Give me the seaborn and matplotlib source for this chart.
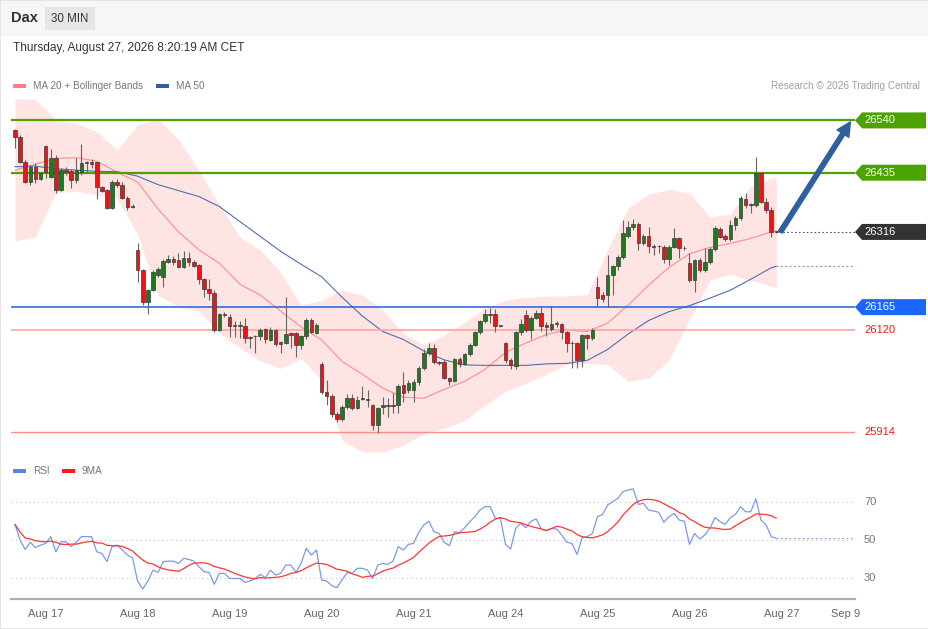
import numpy as np
import pandas as pd
import matplotlib
matplotlib.use("Agg")
import matplotlib.pyplot as plt
from matplotlib.patches import Rectangle, Polygon
import seaborn as sns

# ========================
# DATA (30 min candles, Aug 14 close -> Aug 26 close)
# ========================
opens = [26521, 26506, 26457, 26417, 26447, 26422, 26489, 26427, 26464, 26400,
         26440, 26439, 26420, 26437, 26455, 26457, 26456, 26406, 26400, 26365,
         26417, 26410, 26385, 26367, 26280, 26240, 26175, 26199, 26229, 26226,
         26256, 26262, 26260, 26246, 26263, 26255, 26249, 26221, 26201, 26194,
         26120, 26152, 26145, 26128, 26127, 26128, 26104, 26106, 26107, 26121,
         26099, 26119, 26095, 26092, 26113, 26113, 26089, 26106, 26139, 26113,
         26050, 25995, 25986, 25951, 25941, 25964, 25983, 25963, 25981, 25981,
         25968, 25928, 25965, 25966, 25966, 25969, 26008, 25998, 25998, 26014,
         26042, 26072, 26083, 26055, 26055, 26023, 26016, 26060, 26050, 26070,
         26089, 26115, 26137, 26152, 26152, 26128, 26092, 26058, 26046, 26115,
         26150, 26120, 26144, 26154, 26130, 26122, 26133, 26131, 26115, 26093,
         26092, 26058, 26109, 26102, 26206, 26190, 26189, 26229, 26247, 26266,
         26308, 26325, 26332, 26294, 26308, 26288, 26287, 26286, 26261, 26286,
         26303, 26283, 26254, 26219, 26260, 26240, 26256, 26281, 26321, 26308,
         26301, 26330, 26343, 26383, 26372, 26370, 26434, 26377, 26361, 26316]
highs = [26523, 26511, 26460, 26450, 26454, 26437, 26491, 26482, 26470, 26444,
         26447, 26442, 26464, 26493, 26459, 26462, 26457, 26408, 26402, 26420,
         26422, 26417, 26388, 26372, 26293, 26242, 26202, 26240, 26245, 26262,
         26270, 26268, 26274, 26278, 26275, 26259, 26252, 26224, 26221, 26200,
         26154, 26155, 26152, 26138, 26138, 26143, 26107, 26109, 26123, 26124,
         26125, 26121, 26097, 26186, 26115, 26116, 26110, 26143, 26143, 26133,
         26055, 26018, 25990, 25955, 25968, 25990, 25990, 25986, 26006, 25998,
         25970, 25965, 25985, 25982, 25992, 26010, 26035, 26018, 26020, 26046,
         26080, 26092, 26090, 26057, 26058, 26025, 26062, 26065, 26073, 26092,
         26118, 26140, 26162, 26163, 26162, 26130, 26095, 26062, 26118, 26142,
         26160, 26148, 26160, 26168, 26135, 26168, 26138, 26133, 26117, 26096,
         26095, 26112, 26112, 26124, 26226, 26195, 26269, 26250, 26270, 26340,
         26337, 26342, 26335, 26312, 26325, 26292, 26290, 26289, 26290, 26324,
         26306, 26287, 26273, 26262, 26264, 26283, 26285, 26327, 26325, 26312,
         26340, 26348, 26388, 26394, 26374, 26467, 26436, 26385, 26366, 26318]
lows = [26485, 26454, 26414, 26410, 26414, 26420, 26424, 26424, 26395, 26398,
        26430, 26404, 26414, 26430, 26434, 26444, 26383, 26397, 26363, 26363,
        26406, 26383, 26360, 26365, 26216, 26170, 26152, 26197, 26225, 26206,
        26254, 26250, 26243, 26243, 26248, 26246, 26211, 26186, 26179, 26115,
        26117, 26146, 26104, 26105, 26103, 26092, 26083, 26073, 26099, 26093,
        26097, 26087, 26073, 26090, 26082, 26064, 26080, 26101, 26114, 26111,
        25990, 25968, 25944, 25935, 25937, 25961, 25958, 25960, 25978, 25965,
        25918, 25912, 25950, 25945, 25952, 25953, 25975, 25992, 25975, 26008,
        26038, 26068, 26050, 26048, 26020, 26008, 26014, 26045, 26048, 26067,
        26086, 26112, 26134, 26133, 26115, 26125, 26052, 26040, 26040, 26110,
        26115, 26100, 26141, 26117, 26108, 26118, 26125, 26100, 26075, 26042,
        26042, 26045, 26081, 26098, 26166, 26175, 26166, 26189, 26240, 26262,
        26303, 26320, 26280, 26290, 26273, 26270, 26274, 26253, 26250, 26283,
        26264, 26280, 26215, 26196, 26236, 26236, 26252, 26278, 26303, 26298,
        26297, 26320, 26340, 26365, 26354, 26366, 26374, 26355, 26306, 26314]
closes = [26506, 26457, 26417, 26447, 26422, 26435, 26437, 26464, 26400, 26440,
          26437, 26420, 26440, 26455, 26457, 26452, 26406, 26399, 26365, 26417,
          26410, 26385, 26367, 26369, 26240, 26175, 26199, 26236, 26242, 26258,
          26262, 26256, 26246, 26263, 26255, 26248, 26221, 26201, 26194, 26119,
          26152, 26150, 26128, 26127, 26128, 26102, 26103, 26107, 26119, 26100,
          26119, 26091, 26091, 26112, 26110, 26089, 26106, 26139, 26116, 26129,
          25994, 25986, 25950, 25941, 25964, 25983, 25962, 25979, 25982, 25978,
          25928, 25963, 25968, 25967, 25969, 26006, 25993, 26013, 26015, 26042,
          26072, 26083, 26055, 26052, 26022, 26016, 26060, 26050, 26070, 26089,
          26115, 26137, 26152, 26150, 26127, 26127, 26058, 26048, 26115, 26132,
          26119, 26144, 26153, 26127, 26125, 26132, 26131, 26115, 26092, 26092,
          26058, 26109, 26102, 26119, 26183, 26182, 26229, 26247, 26266, 26314,
          26325, 26332, 26294, 26308, 26288, 26286, 26287, 26261, 26286, 26303,
          26283, 26283, 26219, 26260, 26240, 26256, 26281, 26323, 26306, 26301,
          26330, 26343, 26385, 26370, 26370, 26434, 26377, 26360, 26316, 26316]

# indicator lines read at every 4th candle
band_idx = [0, 4, 8, 12, 16, 20, 24, 28, 32, 36, 40, 44, 48, 52, 56, 60, 64, 68, 72,
            76, 80, 84, 88, 92, 96, 100, 104, 108, 112, 116, 120, 124, 128, 132, 136,
            140, 144, 148, 149]
ma20 = [26440, 26452, 26464, 26465, 26458, 26436, 26416, 26362, 26316, 26280,
        26253, 26211, 26189, 26157, 26125, 26099, 26056, 26030, 26002, 25984,
        25982, 26000, 26016, 26040, 26074, 26093, 26110, 26119, 26116, 26133,
        26169, 26209, 26245, 26272, 26285, 26293, 26303, 26316, 26318]
bb_upper = [26583, 26583, 26541, 26535, 26517, 26481, 26531, 26543, 26501, 26440,
            26370, 26306, 26280, 26235, 26169, 26179, 26199, 26189, 26159, 26113,
            26089, 26109, 26135, 26163, 26179, 26185, 26187, 26187, 26191, 26280,
            26364, 26392, 26401, 26394, 26346, 26352, 26408, 26424, 26424]
bb_lower = [26298, 26306, 26394, 26398, 26390, 26384, 26310, 26189, 26165, 26157,
            26113, 26083, 26058, 26042, 26062, 26018, 25898, 25874, 25874, 25888,
            25910, 25922, 25938, 25968, 25996, 26012, 26030, 26050, 26052, 26050,
            26016, 26022, 26058, 26139, 26219, 26231, 26219, 26207, 26205]
ma50 = [26447, 26448, 26443, 26440, 26438, 26437, 26428, 26411, 26399, 26387,
        26367, 26337, 26307, 26277, 26251, 26226, 26185, 26147, 26116, 26100,
        26077, 26059, 26049, 26048, 26048, 26048, 26051, 26052, 26058, 26080,
        26111, 26138, 26156, 26168, 26183, 26199, 26221, 26244, 26247]

rsi = [58.3, 50, 45, 48.8, 46, 47.3, 48.2, 51.8, 43.8, 49,
       49, 46.5, 48.8, 51.8, 51.8, 51.8, 43.8, 42.9, 38.5, 46.5,
       47.3, 44.7, 42, 40.6, 28.2, 24, 28.2, 34, 32.8, 38.5,
       38.8, 38.8, 37.6, 40.3, 39.7, 38.8, 35.8, 33.2, 32.8, 26.5,
       32.3, 32.3, 29.6, 29.6, 29.6, 27.5, 28.2, 29.6, 31.8, 30,
       34, 31.4, 32.3, 36.7, 36.7, 32.8, 37.6, 45.6, 42, 44.7,
       28.8, 28.2, 25.8, 24.7, 28.8, 32.8, 32.3, 35, 35, 34,
       29.6, 36.7, 37.6, 37.1, 38.8, 46.5, 44.7, 47.7, 48.2, 54,
       58, 60, 54.4, 53.5, 48.8, 47, 54.4, 54, 56.5, 59.7,
       62.4, 65.9, 67.7, 67.7, 61.5, 61.5, 47.7, 45.2, 56.2, 58.8,
       56.5, 60, 61.2, 55.8, 54.8, 56.2, 55.8, 52.7, 48.8, 48.2,
       42.4, 51.2, 51.8, 53.5, 62.4, 63.6, 68.6, 70.4, 72.1, 75.7,
       76.5, 77.1, 68.9, 69.5, 65.9, 65.4, 64.7, 59.4, 62.4, 64.2,
       60.6, 60, 47.7, 53.5, 50.5, 52.7, 56.2, 61.9, 59.7, 58.3,
       61.9, 63.6, 67.7, 65, 65, 71.8, 60.6, 58, 51.8, 50.9]

day_labels = ["Aug 17", "Aug 18", "Aug 19", "Aug 20", "Aug 21",
              "Aug 24", "Aug 25", "Aug 26", "Aug 27", "Sep 9"]
day_pos = [6, 24, 42, 60, 78, 96, 114, 132, 150, 162.6]

resistances = [26540, 26435]
pivot = 26316
support_main = 26165
supports = [26120, 25914]
target = 26540
rsi_levels = [30, 50, 70]

# ========================
# STYLE / LAYOUT
# ========================
sns.set_theme(style="white")
plt.rcParams['font.family'] = ['Liberation Sans', 'DejaVu Sans']

W, H = 929, 629
GREEN_LVL = '#4ca300'
BLUE_LVL = '#1f62e0'
RED_TXT = '#ee1c1c'
CANDLE_UP = '#1d7a1d'
CANDLE_DN = '#ee1414'


def fx(px):
    return px / W


def fy(py):
    return 1 - py / H


fig = plt.figure(figsize=(W / 100, H / 100), dpi=100)
fig.patch.set_facecolor('white')

ax = fig.add_axes([fx(11), fy(456), fx(855) - fx(11), fy(96) - fy(456)])
ax_rsi = fig.add_axes([fx(11), fy(599), fx(855) - fx(11), fy(485) - fy(599)])

xmin, xmax = -0.78, 164.4

# ------------------------
# price panel
# ------------------------
o = np.array(opens, float)
h = np.array(highs, float)
l = np.array(lows, float)
c = np.array(closes, float)
idx = np.arange(len(c))
up = c >= o

ax.set_xlim(xmin, xmax)
ax.set_ylim(25866, 26589)

ax.fill_between(band_idx, bb_lower, bb_upper, color='#ffe4e4', lw=0, zorder=1)
sns.lineplot(x=band_idx, y=ma20, ax=ax, color='#ff8c8c', lw=0.8, zorder=2)
sns.lineplot(x=band_idx, y=ma50, ax=ax, color='#4f6fae', lw=0.8, zorder=2)

for lvl in resistances:
    ax.axhline(lvl, color=GREEN_LVL, lw=1.6, zorder=2)
ax.axhline(support_main, color=BLUE_LVL, lw=1.1, zorder=2)
ax.axhline(supports[0], color='#ffa3a3', lw=1.2, zorder=2)
ax.axhline(supports[1], color='#ff8a8a', lw=1.0, zorder=2)

last = len(c) - 1
ax.hlines(pivot, last + 0.5, xmax, colors='#555555', linestyles=(0, (1.5, 2)), lw=0.8, zorder=2)
ax.hlines(ma50[-1], band_idx[-1], xmax, colors='#8099cc', linestyles=(0, (1.5, 2)), lw=0.9, zorder=2)

# candles
ax.vlines(idx, l, h, color='#666666', lw=0.8, zorder=3)
body = np.maximum(np.abs(c - o), 1.5)
ax.bar(idx, body, bottom=np.minimum(o, c), width=0.7,
       color=np.where(up, CANDLE_UP, CANDLE_DN), edgecolor='#3a3a3a',
       linewidth=0.5, zorder=4)

# projection arrow
ax.annotate('', xy=(163.5, target - 3), xytext=(149.8, pivot),
            arrowprops=dict(width=3.2, headwidth=10, headlength=10,
                            color='#2e5f9f', shrink=0), zorder=5)

ax.set_xlim(xmin, xmax)
ax.set_ylim(25866, 26589)
ax.set_axis_off()


# right-hand tags
def level_tag(value, color, boxed=True, text_color='white'):
    ypx = ax.transData.transform((0, value))[1]
    if boxed:
        pts = [(855, ypx), (862, ypx + 8), (926, ypx + 8), (926, ypx - 8), (862, ypx - 8)]
        fig.add_artist(Polygon([(px / W, py / H) for px, py in pts],
                               closed=True, transform=fig.transFigure,
                               facecolor=color, edgecolor='none'))
    fig.text(fx(864), ypx / H, f"{value}", color=text_color, fontsize=8,
             va='center', ha='left')


for lvl in resistances:
    level_tag(lvl, GREEN_LVL)
level_tag(pivot, '#333333')
level_tag(support_main, '#1a66ff')
for lvl in supports:
    level_tag(lvl, None, boxed=False, text_color=RED_TXT)

# ------------------------
# RSI panel
# ------------------------
ax_rsi.set_xlim(xmin, xmax)
ax_rsi.set_ylim(18.7, 79.2)

rsi_s = pd.Series(rsi)
ma9 = rsi_s.rolling(9, min_periods=1).mean()
for g in rsi_levels:
    ax_rsi.axhline(g, color='#c4c4c4', lw=0.8, ls=(0, (1, 3)), zorder=1)
    fig.text(fx(864), ax_rsi.transData.transform((0, g))[1] / H, str(g),
             color='#777777', fontsize=8, va='center', ha='left')
sns.lineplot(x=np.arange(len(rsi)), y=rsi, ax=ax_rsi, color='#7b9ae6', lw=0.9, zorder=3)
sns.lineplot(x=np.arange(len(rsi)), y=ma9.values, ax=ax_rsi, color='#ff3535', lw=0.9, zorder=3)
ax_rsi.hlines(rsi[-1], len(rsi) - 1, xmax, colors='#8fa8ea', linestyles=(0, (1.5, 2)), lw=0.9)

ax_rsi.set_xlim(xmin, xmax)
ax_rsi.set_ylim(18.7, 79.2)
ax_rsi.set_yticks([])
for s in ('top', 'left', 'right'):
    ax_rsi.spines[s].set_visible(False)
ax_rsi.spines['bottom'].set_color('#b0b0b0')
ax_rsi.spines['bottom'].set_linewidth(1.6)
ax_rsi.set_xticks(day_pos)
ax_rsi.set_xticklabels(day_labels)
ax_rsi.set_xticks([xmin + 0.2, xmax - 0.2], minor=True)
ax_rsi.tick_params(axis='x', which='major', length=0, pad=7, labelsize=8, labelcolor='#666666')
ax_rsi.tick_params(axis='x', which='minor', length=4, width=1.6, color='#b0b0b0', direction='out')
ax_rsi.set_xlabel('')
ax_rsi.set_facecolor('none')

# ------------------------
# header, legends, frame
# ------------------------
fig.add_artist(Rectangle((0, fy(36)), 1, 36 / H, transform=fig.transFigure,
                         facecolor='#f6f6f6', edgecolor='none', zorder=0))
fig.add_artist(Rectangle((fx(45), fy(30)), 50 / W, 23 / H, transform=fig.transFigure,
                         facecolor='#e6e6e6', edgecolor='none', zorder=0))
fig.text(fx(11), fy(18.5), "Dax", fontsize=10.5, fontweight='bold', color='#333333', va='center')
fig.text(fx(70), fy(18.5), "30 MIN", fontsize=8.3, color='#333333', va='center', ha='center')
fig.text(fx(13), fy(48), "Thursday, August 27, 2026 8:20:19 AM CET", fontsize=8.6,
         color='#333333', va='center')


def legend_item(x, y, color, label):
    fig.add_artist(Rectangle((fx(x), fy(y + 2)), 13 / W, 4 / H, transform=fig.transFigure,
                             facecolor=color, edgecolor='none'))
    fig.text(fx(x + 20), fy(y), label, fontsize=7.2, color='#777777', va='center')


legend_item(13, 86, '#ff8080', "MA 20 + Bollinger Bands")
legend_item(156, 86, '#355f9e', "MA 50")
legend_item(13, 471, '#5b80e6', "RSI")
legend_item(62, 471, '#ff1a1a', "9MA")
fig.text(fx(920), fy(86), "Research \u00a9 2026 Trading Central", fontsize=7.2,
         color='#a0a0a0', va='center', ha='right')

fig.add_artist(Rectangle((0, 0), 1, 1, transform=fig.transFigure, fill=False,
                         edgecolor='#e2e2e2', lw=1.2))

fig.savefig('out.png', dpi=100)
